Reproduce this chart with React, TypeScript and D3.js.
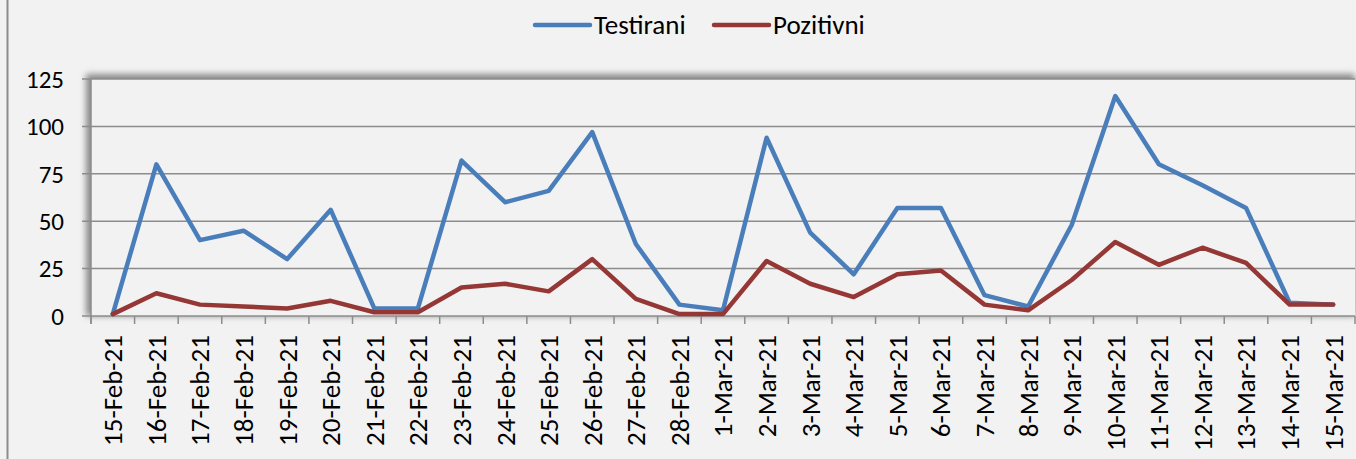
import React, { useRef, useEffect } from 'react';
import * as d3 from 'd3';

// dates on the category axis
const dates = [
  '15-Feb-21', '16-Feb-21', '17-Feb-21', '18-Feb-21', '19-Feb-21', '20-Feb-21', '21-Feb-21',
  '22-Feb-21', '23-Feb-21', '24-Feb-21', '25-Feb-21', '26-Feb-21', '27-Feb-21', '28-Feb-21',
  '1-Mar-21', '2-Mar-21', '3-Mar-21', '4-Mar-21', '5-Mar-21', '6-Mar-21', '7-Mar-21',
  '8-Mar-21', '9-Mar-21', '10-Mar-21', '11-Mar-21', '12-Mar-21', '13-Mar-21', '14-Mar-21', '15-Mar-21'
];

const testirani = [1, 80, 40, 45, 30, 56, 4, 4, 82, 60, 66, 97, 38, 6, 3, 94, 44, 22, 57, 57, 11, 5, 48, 116, 80, 69, 57, 7, 6];
const pozitivni = [1, 12, 6, 5, 4, 8, 2, 2, 15, 17, 13, 30, 9, 1, 1, 29, 17, 10, 22, 24, 6, 3, 19, 39, 27, 36, 28, 6, 6];

const yTicks = [0, 25, 50, 75, 100, 125];

const seriesNames = ['Testirani', 'Pozitivni'];
const seriesColors = ['#4a7ebb', '#953735'];

const W = 1356;
const H = 459;

export default function App() {
  const svgRef = useRef<SVGSVGElement | null>(null);

  useEffect(() => {
    const svg = d3.select(svgRef.current);
    svg.selectAll('*').remove();

    const left = 91, right = 1355, top = 79, bottom = 316;
    const font = 'Carlito, Calibri, "Liberation Sans", Arial, sans-serif';

    const x = d3.scaleBand().domain(dates).range([left, right]).paddingInner(0).paddingOuter(0);
    const y = d3.scaleLinear().domain([0, 125]).range([bottom, top]);

    svg.append('rect').attr('width', W).attr('height', H).attr('fill', '#f2f2f2');

    // outer chart border (left)
    svg.append('line')
      .attr('x1', 7.5).attr('x2', 7.5).attr('y1', 0).attr('y2', H)
      .attr('stroke', '#8c8c8c').attr('stroke-width', 2);

    // shadow of plot area
    const defs = svg.append('defs');
    const f = defs.append('filter').attr('id', 'shd').attr('x', '-5%').attr('y', '-20%').attr('width', '110%').attr('height', '140%');
    f.append('feGaussianBlur').attr('stdDeviation', 3);

    svg.append('rect')
      .attr('x', left - 5).attr('y', top - 5)
      .attr('width', right - left + 5).attr('height', bottom - top + 5)
      .attr('fill', '#8a8a8a').attr('filter', 'url(#shd)');
    svg.append('rect')
      .attr('x', left).attr('y', top)
      .attr('width', right - left).attr('height', bottom - top)
      .attr('fill', '#f2f2f2');

    // gridlines
    svg.append('g').selectAll('line').data(yTicks).join('line')
      .attr('x1', left - 9).attr('x2', right)
      .attr('y1', d => y(d)).attr('y2', d => y(d))
      .attr('stroke', '#8c8c8c').attr('stroke-width', 1.5);

    // y axis line
    svg.append('line')
      .attr('x1', left).attr('x2', left).attr('y1', top).attr('y2', bottom + 8)
      .attr('stroke', '#8c8c8c').attr('stroke-width', 1.5);

    // y labels
    svg.append('g').selectAll('text').data(yTicks).join('text')
      .attr('x', 64).attr('y', d => y(d))
      .attr('dy', '0.35em')
      .attr('text-anchor', 'end')
      .attr('font-family', font).attr('font-size', 25).attr('fill', '#000')
      .text(d => d);

    // x ticks
    const tickPos = dates.map(d => x(d) as number).concat([right]);
    svg.append('g').selectAll('line').data(tickPos).join('line')
      .attr('x1', d => d).attr('x2', d => d)
      .attr('y1', bottom).attr('y2', bottom + 8)
      .attr('stroke', '#8c8c8c').attr('stroke-width', 1.5);

    // x labels
    svg.append('g').selectAll('text').data(dates).join('text')
      .attr('transform', d => `translate(${(x(d) as number) + x.bandwidth() / 2},335) rotate(-90)`)
      .attr('dy', '0.35em')
      .attr('text-anchor', 'end')
      .attr('font-family', font).attr('font-size', 27).attr('fill', '#000')
      .text(d => d);

    // lines
    const line = d3.line<number>()
      .x((_, i) => (x(dates[i]) as number) + x.bandwidth() / 2)
      .y(d => y(d));

    [testirani, pozitivni].forEach((s, i) => {
      svg.append('path')
        .datum(s)
        .attr('d', line)
        .attr('fill', 'none')
        .attr('stroke', seriesColors[i])
        .attr('stroke-width', 4.5)
        .attr('stroke-linejoin', 'round')
        .attr('stroke-linecap', 'round');
    });

    // legend
    const legendX = [535, 714];
    seriesNames.forEach((n, i) => {
      const g = svg.append('g').attr('transform', `translate(${legendX[i]},25)`);
      g.append('line').attr('x1', 0).attr('x2', 55).attr('y1', 0).attr('y2', 0)
        .attr('stroke', seriesColors[i]).attr('stroke-width', 4.5).attr('stroke-linecap', 'round');
      g.append('text').attr('x', 59).attr('y', 0).attr('dy', '0.35em')
        .attr('font-family', font).attr('font-size', 27).attr('fill', '#000')
        .text(n);
    });
  }, []);

  return (
    <svg ref={svgRef} width={W} height={H}
      style={{ position: 'absolute', left: 0, top: 0, display: 'block' }} />
  );
}
